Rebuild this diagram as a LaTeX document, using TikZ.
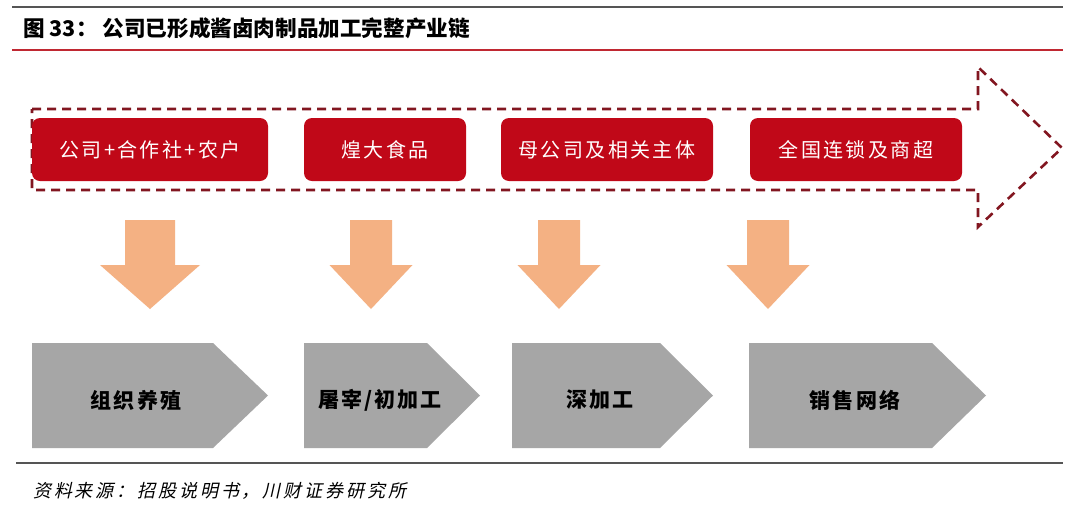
\documentclass[tikz,border=0pt]{standalone}
\usepackage{fontspec}
\newfontfamily\cjk{Noto Sans CJK SC}
\newfontfamily\cjkbox{Noto Sans CJK SC}[LetterSpace=12]
\newfontfamily\cjkpent{Noto Sans CJK SC}[LetterSpace=10]
\newfontfamily\cjkit{Noto Sans CJK SC}[FakeSlant=0.22, LetterSpace=16]
\definecolor{boxred}{RGB}{192,8,24}
\definecolor{dashred}{RGB}{130,22,32}
\definecolor{arrorange}{RGB}{244,177,131}
\definecolor{pentgray}{RGB}{166,166,166}
\definecolor{linegray}{RGB}{85,85,85}
\definecolor{titlered}{RGB}{192,40,50}
\tikzset{
  redbox/.style={fill=boxred, rounded corners=8pt, minimum height=63pt, inner sep=0pt,
    text=white, font=\cjkbox\fontsize{20}{20}\selectfont},
  pentlabel/.style={text=black, inner sep=0pt, font=\cjkpent\bfseries\fontsize{21}{21}\selectfont},
  downarrow/.style={fill=arrorange},
  pentagon/.style={fill=pentgray},
  dasharrow/.style={draw=dashred, line width=2.6pt, dash pattern=on 9pt off 6pt},
}
\begin{document}
\begin{tikzpicture}[x=1pt,y=-1pt]
\useasboundingbox (0,0) rectangle (1080,515);
\fill[white] (0,0) rectangle (1080,515);
% header
\draw[linegray, line width=2.5pt] (12,7) -- (1063,7);
\draw[titlered, line width=1.4pt] (12,50) -- (1063,50);
\node[anchor=west, inner sep=0pt, font=\cjk\bfseries\fontsize{21.6}{22}\selectfont] (title) at (23,28) {图 33： 公司已形成酱卤肉制品加工完整产业链};
% dashed big arrow
\draw[dasharrow, line join=miter] (32,109) -- (978,109) -- (978,67) -- (1062,148) -- (978,227) -- (978,190) -- (32,190) -- cycle;
% red boxes
\node[redbox, minimum width=236pt] (r1) at (150,149.5) {公司+合作社+农户\hspace{-2.4pt}};
\node[redbox, minimum width=162pt] (r2) at (385,149.5) {煌大食品\hspace{-2.4pt}};
\node[redbox, minimum width=212pt] (r3) at (607,149.5) {母公司及相关主体\hspace{-2.4pt}};
\node[redbox, minimum width=212pt] (r4) at (856,149.5) {全国连锁及商超\hspace{-2.4pt}};
% orange arrows
\coordinate (a1) at (150,220);
\coordinate (a2) at (371,220);
\coordinate (a3) at (559,220);
\coordinate (a4) at (768,220);
\fill[downarrow] (a1) ++(-25,0) -- ++(50,0) -- ++(0,45) -- ++(25,0) -- ++(-50,44) -- ++(-50,-44) -- ++(25,0) -- cycle;
\foreach \a in {a2,a3,a4}{
  \fill[downarrow] (\a) ++(-21,0) -- ++(42,0) -- ++(0,45) -- ++(20.5,0) -- ++(-41.5,44) -- ++(-41.5,-44) -- ++(20.5,0) -- cycle;
}
% gray pentagons
\fill[pentagon] (32,343) -- (213,343) -- (268,395.5) -- (213,448) -- (32,448) -- cycle;
\fill[pentagon] (304,343) -- (427,343) -- (480,395.5) -- (427,448) -- (304,448) -- cycle;
\fill[pentagon] (512,343) -- (660,343) -- (713,395.5) -- (660,448) -- (512,448) -- cycle;
\fill[pentagon] (749,343) -- (932,343) -- (986,395.5) -- (932,448) -- (749,448) -- cycle;
\node[pentlabel] (p1) at (136,400) {组织养殖\hspace{-2.1pt}};
\node[pentlabel] (p2) at (380,400) {屠宰/初加工\hspace{-2.1pt}};
\node[pentlabel] (p3) at (600,400) {深加工\hspace{-2.1pt}};
\node[pentlabel] (p4) at (855,400) {销售网络\hspace{-2.1pt}};
% footer
\draw[linegray, line width=2pt] (16,463) -- (1063,463);
\node[anchor=west, inner sep=0pt, font=\cjkit\fontsize{18}{18}\selectfont] (src) at (33,491) {资料来源：招股说明书，川财证券研究所};
\end{tikzpicture}
\end{document}
